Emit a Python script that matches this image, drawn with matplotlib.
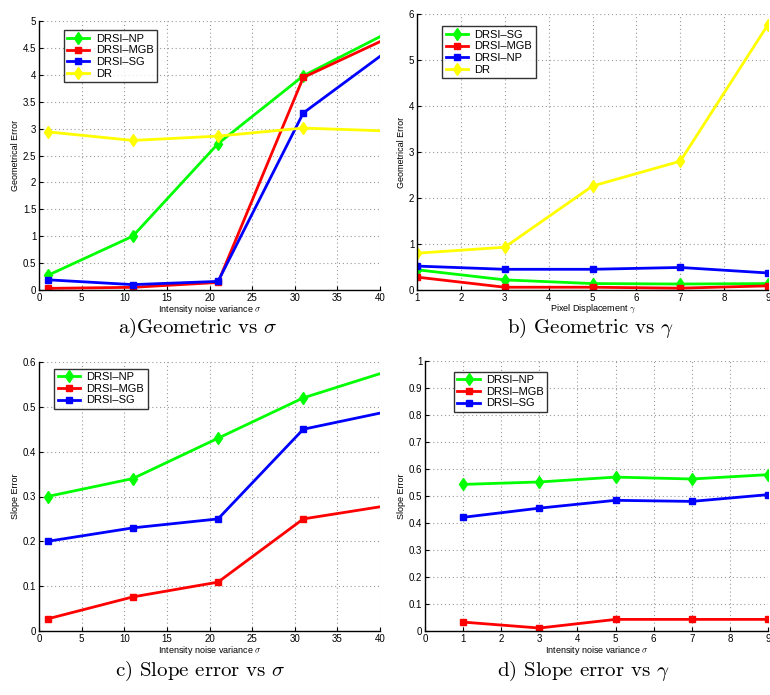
import matplotlib
matplotlib.use("Agg")
import matplotlib.pyplot as plt

plt.rcParams['font.family'] = ['Liberation Sans', 'DejaVu Sans']
plt.rcParams['mathtext.fontset'] = 'cm'

# Panel a: Geometric error vs sigma
x_sigma = [1, 11, 21, 31, 41]
a_labels = ['DRSI–NP', 'DRSI–MGB', 'DRSI–SG', 'DR']
a_np = [0.27, 1.00, 2.72, 3.98, 4.79]
a_mgb = [0.03, 0.05, 0.14, 3.95, 4.69]
a_sg = [0.19, 0.10, 0.16, 3.29, 4.46]
a_dr = [2.94, 2.78, 2.86, 3.01, 2.955]

# Panel b: Geometric error vs gamma
x_gamma = [1, 3, 5, 7, 9]
b_labels = ['DRSI–SG', 'DRSI–MGB', 'DRSI–NP', 'DR']
b_sg = [0.44, 0.22, 0.14, 0.13, 0.14]
b_mgb = [0.28, 0.06, 0.06, 0.04, 0.09]
b_np = [0.52, 0.45, 0.45, 0.49, 0.37]
b_dr = [0.80, 0.93, 2.26, 2.80, 5.77]

# Panel c: Slope error vs sigma
c_labels = ['DRSI–NP', 'DRSI–MGB', 'DRSI–SG']
c_np = [0.30, 0.34, 0.43, 0.52, 0.580]
c_mgb = [0.027, 0.076, 0.109, 0.25, 0.280]
c_sg = [0.20, 0.23, 0.25, 0.45, 0.490]

# Panel d: Slope error vs gamma
d_labels = ['DRSI–NP', 'DRSI–MGB', 'DRSI–SG']
d_np = [0.543, 0.552, 0.570, 0.563, 0.579]
d_mgb = [0.033, 0.011, 0.043, 0.043, 0.043]
d_sg = [0.421, 0.455, 0.484, 0.480, 0.505]

captions = [r'a)Geometric vs $\sigma$', r'b) Geometric vs $\gamma$',
            r'c) Slope error vs $\sigma$', r'd) Slope error vs $\gamma$']

GREEN = '#00ff00'
RED = '#ff0000'
BLUE = '#0000ff'
YELLOW = '#ffff00'

W, H = 770, 695
fig = plt.figure(figsize=(W / 100, H / 100), dpi=100)


def add_ax(l, t, r, b):
    return fig.add_axes([l / W, 1 - b / H, (r - l) / W, (b - t) / H])


def style(ax, xlim, ylim, xticks, yticks, xlabel, ylabel):
    ax.set_xlim(*xlim)
    ax.set_ylim(*ylim)
    ax.set_xticks(xticks)
    ax.set_yticks(yticks)
    ax.set_xticklabels([f'{v:g}' for v in xticks])
    ax.set_yticklabels([f'{v:g}' for v in yticks])
    ax.grid(True, linestyle=(0, (1, 2.5)), color='#999999', linewidth=0.8)
    ax.set_axisbelow(True)
    for s in ['top', 'right']:
        ax.spines[s].set_visible(False)
    for s in ['left', 'bottom']:
        ax.spines[s].set_linewidth(1.0)
    ax.tick_params(direction='in', length=3, labelsize=7, pad=2, colors='black')
    ax.set_xlabel(xlabel, fontsize=6.5, labelpad=0)
    ax.set_ylabel(ylabel, fontsize=6.5, labelpad=2)


def plot_series(ax, x, ys, colors, markers, labels):
    for y, c, m, lab in zip(ys, colors, markers, labels):
        ax.plot(x, y, color=c, marker=m, markersize=6 if m == 'd' else 5,
                linewidth=2, label=lab, clip_on=True)


def legend(ax, anchor):
    leg = ax.legend(loc='upper left', bbox_to_anchor=anchor, fontsize=8,
                    frameon=True, fancybox=False, edgecolor='black',
                    borderpad=0.3, labelspacing=0.15, handlelength=2.0,
                    handletextpad=0.6, borderaxespad=0)
    leg.get_frame().set_linewidth(1.0)


# Panel a
ax = add_ax(39, 21, 380, 290)
plot_series(ax, x_sigma, [a_np, a_mgb, a_sg, a_dr], [GREEN, RED, BLUE, YELLOW],
            ['d', 's', 's', 'd'], a_labels)
style(ax, (0, 40), (0, 5), list(range(0, 41, 5)), [0, 0.5, 1, 1.5, 2, 2.5, 3, 3.5, 4, 4.5, 5],
      r'Intensity noise variance $\sigma$', 'Geometrical Error')
legend(ax, (0.072, 0.965))

# Panel b
ax = add_ax(417, 14, 768, 290)
plot_series(ax, x_gamma, [b_sg, b_mgb, b_np, b_dr], [GREEN, RED, BLUE, YELLOW],
            ['d', 's', 's', 'd'], b_labels)
style(ax, (1, 9), (0, 6), list(range(1, 10)), list(range(0, 7)),
      r'Pixel Displacement $\gamma$', 'Geometrical Error')
legend(ax, (0.072, 0.955))

# Panel c
ax = add_ax(39, 362, 380, 631)
plot_series(ax, x_sigma, [c_np, c_mgb, c_sg], [GREEN, RED, BLUE],
            ['d', 's', 's'], c_labels)
style(ax, (0, 40), (0, 0.6), list(range(0, 41, 5)), [0, 0.1, 0.2, 0.3, 0.4, 0.5, 0.6],
      r'Intensity noise variance $\sigma$', 'Slope Error')
legend(ax, (0.045, 0.975))

# Panel d
ax = add_ax(425, 361, 768, 631)
plot_series(ax, x_gamma, [d_np, d_mgb, d_sg], [GREEN, RED, BLUE],
            ['d', 's', 's'], d_labels)
style(ax, (0, 9), (0, 1), list(range(0, 10)), [round(0.1 * i, 1) for i in range(11)],
      r'Intensity noise variance $\sigma$', 'Slope Error')
legend(ax, (0.085, 0.96))

# Captions
cap_pos = [(198, 328), (590, 328), (200, 671), (583, 671)]
for (cx, cy), txt in zip(cap_pos, captions):
    fig.text(cx / W, 1 - cy / H, txt, ha='center', va='center', fontsize=15,
             family=['cmr10', 'DejaVu Serif'])

fig.savefig('out.png', dpi=100)
